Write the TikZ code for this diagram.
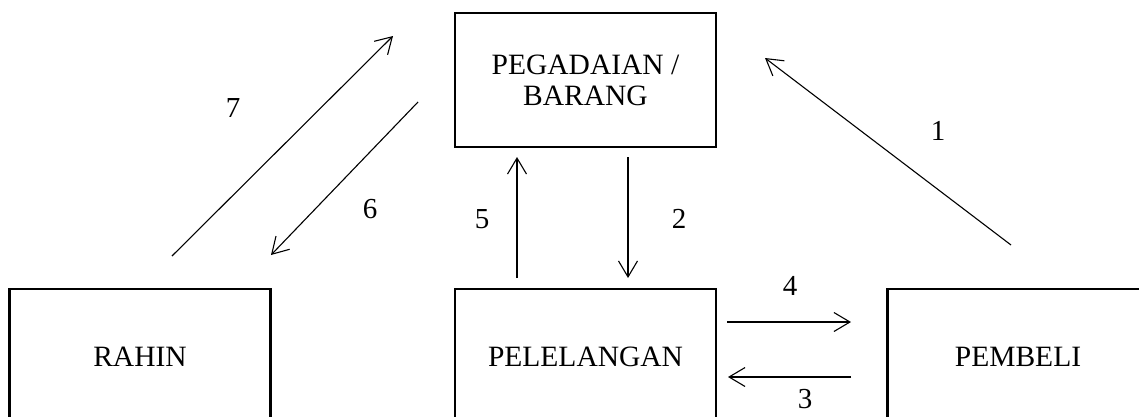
\documentclass[tikz,border=0pt]{standalone}
\usepackage{fontspec}
\setmainfont{Liberation Serif}
\usetikzlibrary{arrows.meta}
\begin{document}
\begin{tikzpicture}[x=1pt,y=-1pt,
  box/.style={draw, line width=2.4pt, minimum width=261pt, minimum height=134pt,
    inner sep=0pt, align=center, font=\fontsize{29.5}{31}\selectfont},
  flow/.style={line width=1.1pt, -{Straight Barb[length=16pt,width=19pt,line width=1.1pt]}},
  lbl/.style={font=\fontsize{29}{30}\selectfont}]
\useasboundingbox (0,0) rectangle (1139,416);
\clip (0,0) rectangle (1139,416);

% boxes
\node[box] (peg) at (585.5,80) {PEGADAIAN /\\BARANG};
\node[box, minimum height=136pt] (rahin) at (140,357) {RAHIN};
\node[box, minimum height=136pt] (lelang) at (585.5,357) {PELELANGAN};
\node[box, minimum height=136pt] (beli) at (1018,357) {PEMBELI};

% arrow end points
\coordinate (a7s) at (172,256);  \coordinate (a7e) at (393,36);
\coordinate (a6s) at (418,102);  \coordinate (a6e) at (271,255);
\coordinate (a5s) at (517,278);  \coordinate (a5e) at (517,157);
\coordinate (a2s) at (628,157);  \coordinate (a2e) at (628,278);
\coordinate (a1s) at (1011,245); \coordinate (a1e) at (765,58);
\coordinate (a4s) at (727,322);  \coordinate (a4e) at (851,322);
\coordinate (a3s) at (851,377);  \coordinate (a3e) at (728,377);

% connectors
\draw[flow] (a7s) -- (a7e);
\draw[flow] (a6s) -- (a6e);
\draw[flow] (a5s) -- (a5e);
\draw[flow] (a2s) -- (a2e);
\draw[flow] (a1s) -- (a1e);
\draw[flow] (a4s) -- (a4e);
\draw[flow] (a3s) -- (a3e);

% step numbers
\node[lbl] (n7) at (233,108) {7};
\node[lbl] (n6) at (370,209) {6};
\node[lbl] (n5) at (482,219) {5};
\node[lbl] (n2) at (679,219) {2};
\node[lbl] (n1) at (938,131) {1};
\node[lbl] (n4) at (790,286) {4};
\node[lbl] (n3) at (805,399) {3};
\end{tikzpicture}
\end{document}
